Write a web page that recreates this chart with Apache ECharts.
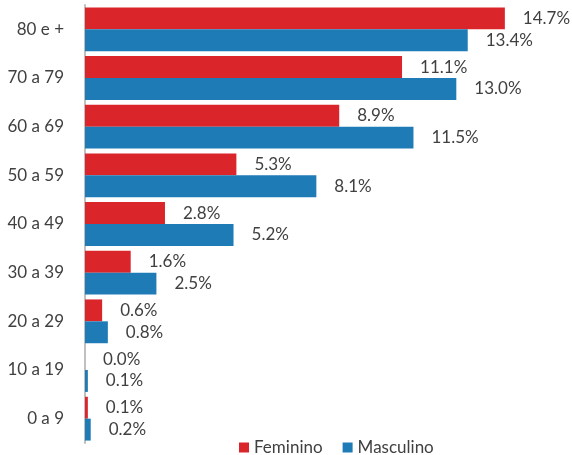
<!DOCTYPE html>
<html>
<head>
<meta charset="utf-8">
<script src="https://cdn.jsdelivr.net/npm/echarts@6/dist/echarts.min.js"></script>
<style>
  html, body { margin: 0; padding: 0; background: #fff; }
  #chart { width: 572px; height: 455px; }
</style>
</head>
<body>
<div id="chart"></div>
<script>
// faixas etárias (de baixo para cima, como o eixo de categorias desenha)
const faixas = ['0 a 9', '10 a 19', '20 a 29', '30 a 39', '40 a 49', '50 a 59', '60 a 69', '70 a 79', '80 e +'];
const feminino = [0.1, 0.0, 0.6, 1.6, 2.8, 5.3, 8.9, 11.1, 14.7];
const masculino = [0.2, 0.1, 0.8, 2.5, 5.2, 8.1, 11.5, 13.0, 13.4];

const fonte = 'Lato, "Open Sans", sans-serif';
const corTexto = '#404040';

const chart = echarts.init(document.getElementById('chart'));

const rotulo = {
  show: true,
  position: 'right',
  distance: 18,
  color: corTexto,
  fontFamily: fonte,
  fontSize: 17,
  formatter: p => p.value.toFixed(1) + '%'
};

chart.setOption({
  animation: false,
  grid: { left: 85, top: 5, width: 457, height: 438 },
  legend: {
    left: 234, top: 434,
    itemWidth: 10, itemHeight: 10, itemGap: 20,
    icon: 'rect',
    textStyle: { color: corTexto, fontFamily: fonte, fontSize: 17 },
    data: ['Feminino', 'Masculino']
  },
  xAxis: {
    type: 'value', min: 0, max: 16,
    show: false
  },
  yAxis: {
    type: 'category',
    data: faixas,
    offset: 1,
    axisLine: { lineStyle: { color: '#c0c0c0', width: 2 } },
    axisTick: { show: false },
    axisLabel: { color: corTexto, fontFamily: fonte, fontSize: 17, margin: 20 }
  },
  series: [
    {
      name: 'Feminino', type: 'bar', data: feminino,
      itemStyle: { color: '#da252b' },
      barGap: '0%', barCategoryGap: '10%',
      label: rotulo
    },
    {
      name: 'Masculino', type: 'bar', data: masculino,
      itemStyle: { color: '#1f7bb6' },
      barGap: '0%', barCategoryGap: '10%',
      label: rotulo
    }
  ]
});
</script>
</body>
</html>
